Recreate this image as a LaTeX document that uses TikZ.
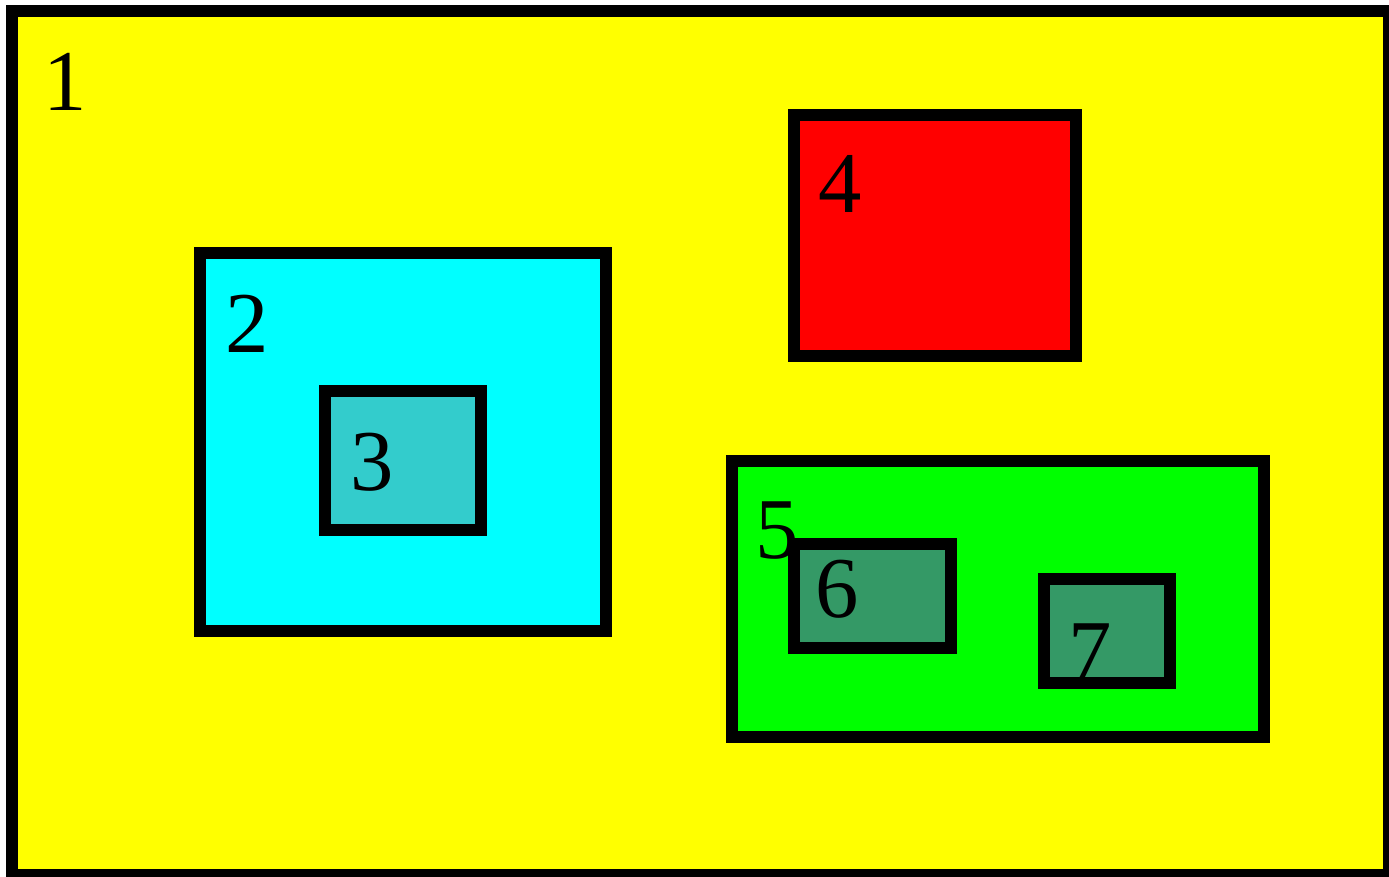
\documentclass[tikz,border=0pt]{standalone}
\usepackage{fontspec}
\setmainfont{Liberation Serif}
\definecolor{cyanA}{RGB}{0,255,255}
\definecolor{turq}{RGB}{51,204,204}
\definecolor{sea}{RGB}{52,153,102}
\definecolor{yel}{RGB}{255,255,0}
\definecolor{grn}{RGB}{0,255,0}
\definecolor{rd}{RGB}{255,0,0}
\tikzset{
  box/.style={draw=black, line width=9pt, fill=#1},
  lbl/.style={anchor=base west, inner sep=0pt, font=\fontsize{65}{65}\selectfont}
}
\begin{document}
\begin{tikzpicture}[x=0.75pt, y=-0.75pt]
\clip (0,0) rectangle (1389,876);
\fill[white] (0,0) rectangle (1389,876);
% 1
\path[box=yel] (12,11) rectangle (1389,875);
\node[lbl] (l1) at (43,110) {1};
% 2
\path[box=cyanA] (200,253) rectangle (606,631);
\node[lbl] (l2) at (225,352) {2};
% 3
\path[box=turq] (325,391) rectangle (481,530);
\node[lbl] (l3) at (350,490) {3};
% 4
\path[box=rd] (794,115) rectangle (1076,356);
\node[lbl] (l4) at (818,212) {4};
% 5
\path[box=grn] (732,461) rectangle (1264,737);
\node[lbl] (l5) at (755,558) {5};
% 6
\path[box=sea] (794,544) rectangle (951,648);
\node[lbl] (l6) at (815,617) {6};
% 7
\path[box=sea] (1044,579) rectangle (1170,683);
\begin{scope}
\clip (1044,579) rectangle (1170,677);
\node[lbl] (l7) at (1068,680) {7};
\end{scope}
\draw[line width=9pt] (1044,683) -- (1170,683);
\end{tikzpicture}
\end{document}
